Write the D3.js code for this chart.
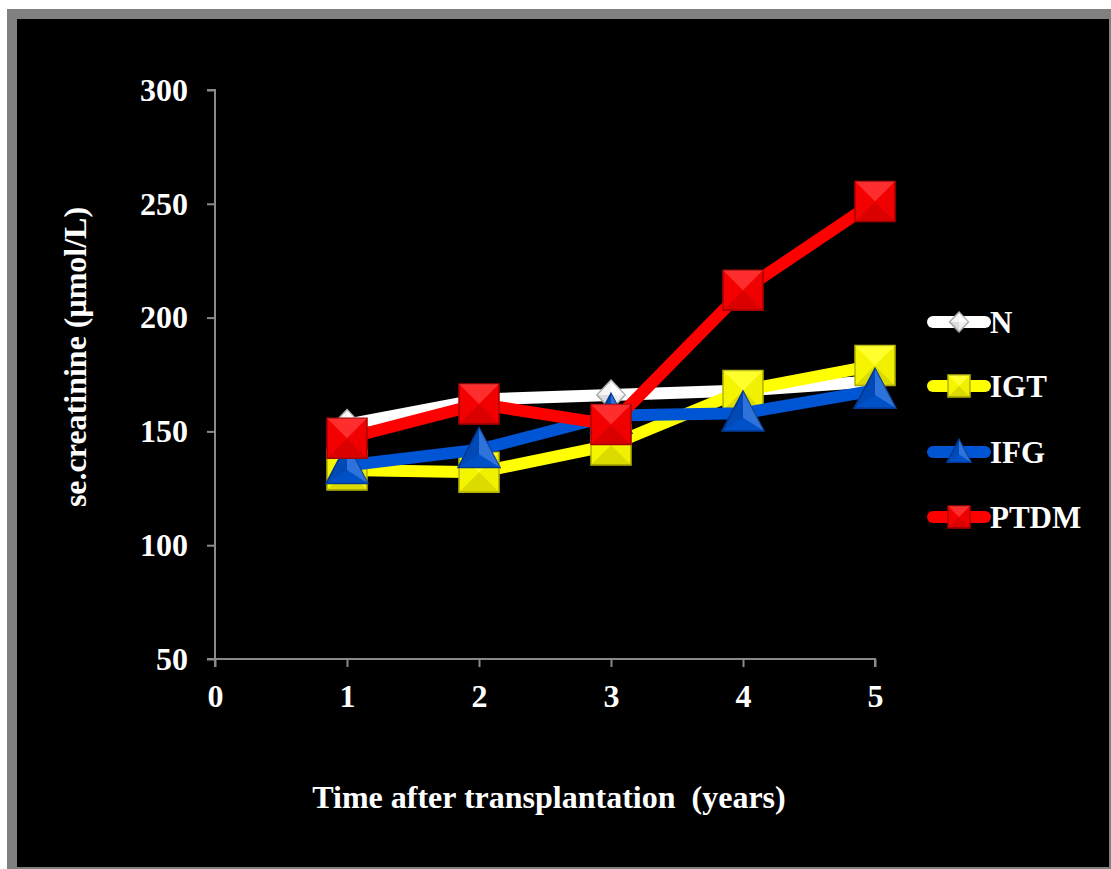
<!DOCTYPE html>
<html><head><meta charset="utf-8">
<script src="https://cdn.jsdelivr.net/npm/d3@7"></script>
<style>html,body{margin:0;padding:0;background:#fff;}svg{display:block;}</style>
</head><body>
<script>
const years = [1, 2, 3, 4, 5];
const xTicks = [0, 1, 2, 3, 4, 5];
const yTicks = [50, 100, 150, 200, 250, 300];
const seriesNames = ["N", "IGT", "IFG", "PTDM"];
const valuesN = [153, 164, 166, 168, 172];
const valuesIGT = [133, 132, 144, 168, 179];
const valuesIFG = [135, 142, 157, 158, 168];
const valuesPTDM = [147, 162, 153, 212, 251];
const colors = ["#ffffff", "#ffff00", "#0055d4", "#ff0000"];
const edgeColors = ["#b0b0b0", "#b8b800", "#003c9a", "#b00000"];
const markers = ["diamond", "square", "triangle", "square"];
const xTitle = "Time after transplantation\u00a0 (years)";
const yTitle = "se.creatinine (\u03bcmol/L)";

const W = 1111, H = 869;
const svg = d3.select("body").append("svg").attr("width", W).attr("height", H);
svg.append("rect").attr("x", 7).attr("y", 9).attr("width", W - 7).attr("height", H - 9).attr("fill", "#808080");
svg.append("rect").attr("x", 17).attr("y", 19).attr("width", 1092).attr("height", 848).attr("fill", "#000");

const x = d3.scaleLinear().domain([0, 5]).range([215, 875]);
const y = d3.scaleLinear().domain([50, 300]).range([659, 90]);
const font = "'Liberation Serif','Times New Roman',serif";

const axisColor = "#8a8a8a";
const gx = svg.append("g").attr("transform", `translate(0,${y(50)})`)
  .call(d3.axisBottom(x).tickValues(xTicks).tickSize(8).tickPadding(17).tickFormat(d3.format("d")));
const gy = svg.append("g").attr("transform", `translate(${x(0)},0)`)
  .call(d3.axisLeft(y).tickValues(yTicks).tickSize(8).tickPadding(19).tickFormat(d3.format("d")));
[gx, gy].forEach(g => {
  g.select(".domain").attr("stroke", axisColor).attr("stroke-width", 2);
  g.selectAll(".tick line").attr("stroke", axisColor).attr("stroke-width", 2);
  g.selectAll(".tick text").attr("fill", "#fff").attr("font-family", font)
    .attr("font-weight", "bold").attr("font-size", 32);
});
gx.select(".domain").attr("d", `M${x(0) - 8},0H${x(5)}V8`);
gy.select(".domain").attr("d", `M-8,${y(300)}H0V${y(50) + 8}`);

svg.append("text").attr("x", 549).attr("y", 808).attr("text-anchor", "middle")
  .attr("fill", "#fff").attr("font-family", font).attr("font-weight", "bold").attr("font-size", 32)
  .text(xTitle);
svg.append("text").attr("transform", "translate(86,357) rotate(-90)").attr("text-anchor", "middle")
  .attr("fill", "#fff").attr("font-family", font).attr("font-weight", "bold").attr("font-size", 32)
  .text(yTitle);

function drawMarker(g, type, cx, cy, s, color, edge) {
  const m = g.append("g").attr("transform", `translate(${cx},${cy})`);
  const h = s / 2;
  let pts;
  if (type === "square") {
    pts = [[-h, -h], [h, -h], [h, h], [-h, h]];
  } else if (type === "triangle") {
    pts = [[0, -h * 1.05], [h, h * 0.85], [-h, h * 0.85]];
  } else {
    pts = [[0, -h], [h * 0.95, 0], [0, h], [-h * 0.95, 0]];
  }
  const c = type === "triangle" ? [0, (pts[0][1] + pts[1][1] + pts[2][1]) / 3] : [0, 0];
  m.append("path").attr("d", "M" + pts.map(p => p.join(",")).join("L") + "Z")
    .attr("fill", color).attr("stroke", edge).attr("stroke-width", 1.5);
  const shades = ["rgba(255,255,255,0.18)", "rgba(0,0,0,0.06)", "rgba(0,0,0,0.14)", "rgba(0,0,0,0.04)"];
  for (let i = 0; i < pts.length; i++) {
    const a = pts[i], b = pts[(i + 1) % pts.length];
    m.append("path").attr("d", `M${a[0]},${a[1]}L${b[0]},${b[1]}L${c[0]},${c[1]}Z`)
      .attr("fill", shades[i % shades.length]);
  }
}

const allValues = [valuesN, valuesIGT, valuesIFG, valuesPTDM];
const line = d3.line().x((d, i) => x(years[i])).y(d => y(d));
const markerSizes = { diamond: 30, square: 40, triangle: 42 };
allValues.forEach((vals, si) => {
  const g = svg.append("g");
  g.append("path").datum(vals).attr("d", line).attr("fill", "none")
    .attr("stroke", colors[si]).attr("stroke-width", 12).attr("stroke-linejoin", "round");
  vals.forEach((v, i) => drawMarker(g, markers[si], x(years[i]), y(v), markerSizes[markers[si]], colors[si], edgeColors[si]));
});

const legendY = [322, 386, 452, 517];
const legMarkerSizes = { diamond: 20, square: 22, triangle: 24 };
seriesNames.forEach((name, si) => {
  const g = svg.append("g");
  g.append("line").attr("x1", 933).attr("x2", 985).attr("y1", legendY[si]).attr("y2", legendY[si])
    .attr("stroke", colors[si]).attr("stroke-width", 12).attr("stroke-linecap", "round");
  drawMarker(g, markers[si], 959, legendY[si], legMarkerSizes[markers[si]], colors[si], edgeColors[si]);
  g.append("text").attr("x", 990).attr("y", legendY[si]).attr("dy", "0.35em")
    .attr("fill", "#fff").attr("font-family", font).attr("font-weight", "bold").attr("font-size", 31)
    .text(name);
});
</script>
</body></html>
